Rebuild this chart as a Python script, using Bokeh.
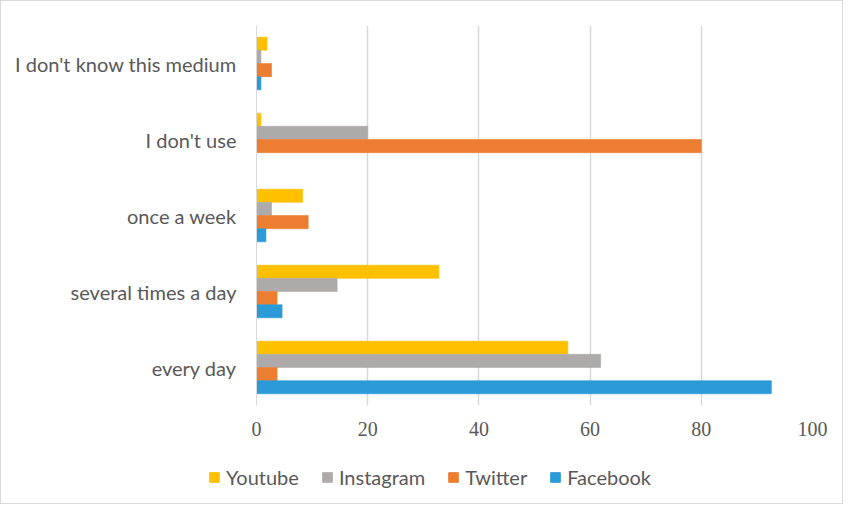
from bokeh.plotting import figure
from bokeh.models import Legend, LegendItem, FixedTicker, Range1d, ColumnDataSource
from bokeh.transform import dodge
from bokeh.embed import file_html
from bokeh.resources import INLINE

categories = ["every day", "several times a day", "once a week", "I don't use", "I don't know this medium"]
youtube = [56.0, 32.8, 8.3, 0.8, 1.9]
instagram = [61.9, 14.5, 2.7, 20.0, 0.8]
twitter = [3.7, 3.7, 9.3, 80.0, 2.7]
facebook = [92.6, 4.6, 1.7, 0.0, 0.8]
series_names = ["Youtube", "Instagram", "Twitter", "Facebook"]
x_ticks = [0, 20, 40, 60, 80, 100]

colors = ["#FFC000", "#AEAAAA", "#ED7D31", "#2A9BD8"]
offsets = [0.26, 0.087, -0.087, -0.26]

source = ColumnDataSource(dict(cat=categories, Youtube=youtube, Instagram=instagram,
                               Twitter=twitter, Facebook=facebook))

p = figure(width=843, height=456, y_range=categories, x_range=(0, 100),
           output_backend="svg", toolbar_location=None,
           min_border_left=255, min_border_right=32, min_border_top=24, min_border_bottom=52)
p.outline_line_color = None
p.styles = {"border-top": "1px solid #D9D9D9", "border-left": "1px solid #D9D9D9",
            "border-right": "1px solid #D9D9D9"}

renderers = []
for name, col, off in zip(series_names, colors, offsets):
    r = p.hbar(y=dodge("cat", off, range=p.y_range), right=name, left=0, height=0.172,
               source=source, fill_color=col, line_color=col, line_alpha=0.6)
    renderers.append(r)

p.xaxis.ticker = FixedTicker(ticks=x_ticks)
p.xaxis.axis_line_color = None
p.xaxis.major_tick_line_color = None
p.xaxis.minor_tick_line_color = None
p.xaxis.major_label_text_font = "Liberation Serif"
p.xaxis.major_label_text_font_size = "20px"
p.xaxis.major_label_text_color = "#595959"
p.xaxis.major_label_standoff = 10

p.yaxis.axis_line_color = "#D9D9D9"
p.yaxis.major_tick_line_color = None
p.yaxis.minor_tick_line_color = None
p.yaxis.major_label_text_font = "Lato"
p.yaxis.major_label_text_font_size = "20px"
p.yaxis.major_label_text_color = "#595959"
p.yaxis.major_label_standoff = 14

p.xgrid.grid_line_color = "#D9D9D9"
p.xgrid.grid_line_width = 1.5
p.ygrid.grid_line_color = None
p.y_range.range_padding = 0

# legend strip (separate root so its frame is not aligned with the chart)
lg = figure(width=843, height=48, x_range=Range1d(0, 1), y_range=Range1d(0, 1),
            output_backend="svg", toolbar_location=None,
            min_border_left=0, min_border_right=0, min_border_top=0, min_border_bottom=0)
lg.axis.visible = False
lg.grid.grid_line_color = None
lg.outline_line_color = None
lg.styles = {"border-bottom": "1px solid #D9D9D9", "border-left": "1px solid #D9D9D9",
             "border-right": "1px solid #D9D9D9"}
dummies = []
for col in colors:
    dummies.append(lg.hbar(y=[5], right=[5], left=[4], height=0.1, fill_color=col, line_color=col))

legend = Legend(items=[LegendItem(label=n, renderers=[r]) for n, r in zip(series_names, dummies)],
                orientation="horizontal", location=(207, 15),
                label_text_font="Lato", label_text_font_size="20px", label_text_color="#595959",
                glyph_width=12, glyph_height=12, spacing=22, label_standoff=6,
                border_line_color=None, background_fill_alpha=0, padding=4, margin=0)
lg.add_layout(legend, "center")

open("out.html", "w").write(file_html([p, lg], INLINE))
